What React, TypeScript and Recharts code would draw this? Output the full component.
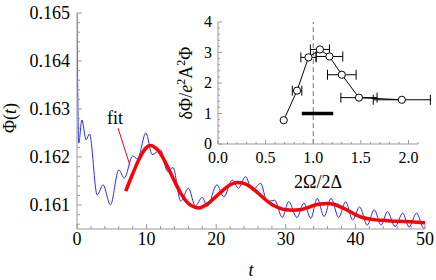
import React from 'react';
import {
  LineChart, Line, XAxis, YAxis, ReferenceLine,
  ScatterChart, Scatter, ErrorBar,
} from 'recharts';

// main panel: Φ(t) trace (blue) and fit (red)
const blueT = [0, 0.25, 0.7, 1.3, 1.8, 2.9, 3.75, 4.8, 6.0, 6.8, 8.0, 8.7, 9.9, 10.8, 12.0, 13.0, 13.8, 14.9, 16.0, 17.0, 18.0, 18.7, 20.1, 21.1, 22.3, 23.2, 24.2, 25.2, 26.4, 27.3, 28.4, 29.5, 30.4, 31.6, 32.6, 33.6, 34.5, 35.5, 36.5, 37.6, 38.6, 39.6, 40.6, 41.7, 42.7, 43.7, 44.6, 45.7, 46.8, 47.7, 48.8, 49.8, 50];
const blueV = [0.1650, 0.16229, 0.16277, 0.16236, 0.16248, 0.16121, 0.16142, 0.16100, 0.16173, 0.16156, 0.16202, 0.16196, 0.16250, 0.16205, 0.16215, 0.16170, 0.16178, 0.16108, 0.16135, 0.16098, 0.16116, 0.16097, 0.16142, 0.16117, 0.16152, 0.16135, 0.16159, 0.16131, 0.16145, 0.16107, 0.16110, 0.16074, 0.16107, 0.16074, 0.16104, 0.16072, 0.16114, 0.16076, 0.16114, 0.16074, 0.16107, 0.16069, 0.16096, 0.16058, 0.16090, 0.16058, 0.16086, 0.16055, 0.16083, 0.16054, 0.16083, 0.16052, 0.16055];

const fitT = [7, 8, 9, 10, 10.5, 11, 12, 13, 14, 15, 16, 17, 17.5, 18, 19, 20, 21, 22, 23, 24, 25, 26, 27, 28, 29, 30, 31, 32, 33, 34, 35, 36, 37, 38, 39, 40, 41, 42, 43, 44, 46, 48, 50];
const fitV = [0.16129, 0.16165, 0.16198, 0.16220, 0.16224, 0.16222, 0.16207, 0.16180, 0.16150, 0.16122, 0.16103, 0.16095, 0.16094, 0.16096, 0.16105, 0.16118, 0.16131, 0.16142, 0.16147, 0.16145, 0.16137, 0.16125, 0.16112, 0.16101, 0.16094, 0.16090, 0.16089, 0.16090, 0.16094, 0.16099, 0.16102, 0.16103, 0.16101, 0.16095, 0.16088, 0.16080, 0.16074, 0.16071, 0.16069, 0.16068, 0.16066, 0.16065, 0.16063];

const fitPointer = [{ x: 5.9, y: 0.1626 }, { x: 7.6, y: 0.16183 }];

const mainXMajor = [0, 10, 20, 30, 40, 50];
const mainXTicks = [0, 2, 4, 6, 8, 10, 12, 14, 16, 18, 20, 22, 24, 26, 28, 30, 32, 34, 36, 38, 40, 42, 44, 46, 48, 50];
const mainYMajor = [0.161, 0.162, 0.163, 0.164, 0.165];
const mainYTicks = [0.1606, 0.1608, 0.161, 0.1612, 0.1614, 0.1616, 0.1618, 0.162, 0.1622, 0.1624, 0.1626, 0.1628, 0.163, 0.1632, 0.1634, 0.1636, 0.1638, 0.164, 0.1642, 0.1644, 0.1646, 0.1648, 0.165];

// inset: δΦ/e²A²Φ vs 2Ω/2Δ
const insetX = [0.69, 0.83, 0.95, 1.07, 1.17, 1.30, 1.48, 1.93];
const insetY = [0.78, 1.75, 2.84, 3.10, 2.87, 2.27, 1.52, 1.45];
const insetXErr = [0, 0.05, 0.08, 0.10, 0.14, 0.15, 0.19, 0.30];
const gapBar = [{ x: 0.88, y: 1 }, { x: 1.21, y: 1 }];

const insetXMajor = [0, 0.5, 1, 1.5, 2];
const insetXTicks = [0, 0.1, 0.2, 0.3, 0.4, 0.5, 0.6, 0.7, 0.8, 0.9, 1, 1.1, 1.2, 1.3, 1.4, 1.5, 1.6, 1.7, 1.8, 1.9, 2, 2.1];
const insetYMajor = [0, 1, 2, 3, 4];
const insetYTicks = [0, 0.2, 0.4, 0.6, 0.8, 1, 1.2, 1.4, 1.6, 1.8, 2, 2.2, 2.4, 2.6, 2.8, 3, 3.2, 3.4, 3.6, 3.8, 4];

const blueData = blueT.map((t, i) => ({ t, v: blueV[i] }));
const fitData = fitT.map((t, i) => ({ t, v: fitV[i] }));
const insetData = insetX.map((x, i) => ({ x, y: insetY[i], xerr: insetXErr[i] }));

const FONT = '"Liberation Serif", "Times New Roman", serif';
const FRAME = '#999';

type Side = 'bottom' | 'top' | 'left' | 'right';

// inward ticks (Mathematica frame style), labels only on majors
function frameTick(side: Side, majors: number[], fmt: ((v: number) => string) | null, fontSize: number, big: number, small: number, gap: number) {
  return (p: any) => {
    const { x, y } = p;
    const v = p.payload.value;
    const isMajor = majors.some((m) => Math.abs(m - v) < 1e-9);
    const len = isMajor ? big : small;
    let x2 = x, y2 = y;
    if (side === 'bottom') y2 = y - len;
    if (side === 'top') y2 = y + len;
    if (side === 'left') x2 = x + len;
    if (side === 'right') x2 = x - len;
    let label = null;
    if (fmt && isMajor) {
      if (side === 'bottom') {
        label = <text x={x} y={y + gap} textAnchor="middle" fontSize={fontSize} fontFamily={FONT} fill="#000">{fmt(v)}</text>;
      } else if (side === 'left') {
        label = <text x={x - gap} y={y + fontSize * 0.33} textAnchor="end" fontSize={fontSize} fontFamily={FONT} fill="#000">{fmt(v)}</text>;
      }
    }
    return (
      <g>
        <line x1={x} y1={y} x2={x2} y2={y2} stroke={FRAME} strokeWidth={1} />
        {label}
      </g>
    );
  };
}

const circle = (p: any) => <circle cx={p.cx} cy={p.cy} r={3.6} fill="#fff" stroke="#000" strokeWidth={1} />;

export default function App() {
  return (
    <div style={{ position: 'absolute', left: 0, top: 0, width: 436, height: 280, background: '#fff', fontFamily: FONT }}>
      <div style={{ position: 'absolute', left: 0, top: 0 }}>
        <LineChart width={436} height={280} margin={{ top: 13, right: 11, bottom: 0, left: 0 }}>
          <XAxis xAxisId="b" type="number" dataKey="t" domain={[0, 50]} ticks={mainXTicks} interval={0}
            height={51} tickSize={0} tickMargin={0} axisLine={{ stroke: FRAME }} tickLine={false}
            tick={frameTick('bottom', mainXMajor, (v) => String(v), 18, 5, 3, 16)} allowDataOverflow />
          <XAxis xAxisId="top" orientation="top" type="number" domain={[0, 50]} ticks={mainXTicks} interval={0}
            height={0} tickSize={0} tickMargin={0} axisLine={{ stroke: FRAME }} tickLine={false}
            tick={frameTick('top', mainXMajor, null, 18, 5, 3, 0)} allowDataOverflow />
          <YAxis yAxisId="l" type="number" domain={[0.1605, 0.165]} ticks={mainYTicks} interval={0}
            width={77} tickSize={0} tickMargin={0} axisLine={{ stroke: FRAME }} tickLine={false}
            tick={frameTick('left', mainYMajor, (v) => v.toFixed(3), 18, 5, 3, 7)} allowDataOverflow />
          <YAxis yAxisId="r" orientation="right" type="number" domain={[0.1605, 0.165]} ticks={mainYTicks} interval={0}
            width={0} tickSize={0} tickMargin={0} axisLine={{ stroke: FRAME }} tickLine={false}
            tick={frameTick('right', mainYMajor, null, 18, 5, 3, 0)} allowDataOverflow />
          <Line xAxisId="b" yAxisId="l" data={blueData} dataKey="v" type="monotone" stroke="#2a2aff"
            strokeWidth={1} dot={false} isAnimationActive={false} />
          <Line xAxisId="b" yAxisId="l" data={fitData} dataKey="v" type="monotone" stroke="#ff0000"
            strokeWidth={3.5} dot={false} isAnimationActive={false} />
          <ReferenceLine xAxisId="b" yAxisId="l" segment={fitPointer} stroke="#ff0000" strokeWidth={1} />
        </LineChart>
      </div>

      <div style={{ position: 'absolute', left: 0, top: 0 }}>
        <ScatterChart width={436} height={280} margin={{ top: 22, right: 18, bottom: 0, left: 0 }}>
          <XAxis xAxisId="b" type="number" dataKey="x" domain={[0, 2.1]} ticks={insetXTicks} interval={0}
            height={136} tickSize={0} tickMargin={0} axisLine={{ stroke: FRAME }} tickLine={false}
            tick={frameTick('bottom', insetXMajor, (v) => v.toFixed(1), 16, 4, 2, 19)} allowDataOverflow />
          <XAxis xAxisId="top" orientation="top" type="number" domain={[0, 2.1]} ticks={insetXTicks} interval={0}
            height={0} tickSize={0} tickMargin={0} axisLine={{ stroke: FRAME }} tickLine={false}
            tick={frameTick('top', insetXMajor, null, 16, 4, 2, 0)} allowDataOverflow />
          <YAxis yAxisId="l" type="number" dataKey="y" domain={[0, 4]} ticks={insetYTicks} interval={0}
            width={218} tickSize={0} tickMargin={0} axisLine={{ stroke: FRAME }} tickLine={false}
            tick={frameTick('left', insetYMajor, (v) => String(v), 16, 4, 2, 6)} allowDataOverflow />
          <YAxis yAxisId="r" orientation="right" type="number" domain={[0, 4]} ticks={insetYTicks} interval={0}
            width={0} tickSize={0} tickMargin={0} axisLine={{ stroke: FRAME }} tickLine={false}
            tick={frameTick('right', insetYMajor, null, 16, 4, 2, 0)} allowDataOverflow />
          <ReferenceLine xAxisId="b" yAxisId="l" x={1} stroke="#777" strokeDasharray="5 3" strokeWidth={1} />
          <ReferenceLine xAxisId="b" yAxisId="l" segment={gapBar} stroke="#000" strokeWidth={3.5} />
          <Scatter xAxisId="b" yAxisId="l" data={insetData} line={{ stroke: '#000', strokeWidth: 1 }} lineType="joint"
            shape={circle} isAnimationActive={false}>
            <ErrorBar dataKey="xerr" direction="x" width={5} stroke="#000" strokeWidth={1} />
          </Scatter>
        </ScatterChart>
      </div>

      <svg width={436} height={280} style={{ position: 'absolute', left: 0, top: 0, pointerEvents: 'none' }}>
        <text x={115} y={124} textAnchor="middle" fontSize={18} fontFamily={FONT}>fit</text>
        <text x={251} y={276} textAnchor="middle" fontSize={18} fontFamily={FONT} fontStyle="italic">t</text>
        <text transform="translate(16,118) rotate(-90)" textAnchor="middle" fontSize={18} fontFamily={FONT}>
          Φ(<tspan fontStyle="italic">t</tspan>)
        </text>
        <text x={318} y={188} textAnchor="middle" fontSize={18} fontFamily={FONT}>2Ω/2Δ</text>
        <text transform="translate(192,83) rotate(-90)" textAnchor="middle" fontSize={18} fontFamily={FONT}>
          δΦ/<tspan fontStyle="italic">e</tspan><tspan dy={-7} fontSize={12}>2</tspan><tspan dy={7}>A</tspan><tspan dy={-7} fontSize={12}>2</tspan><tspan dy={7}>Φ</tspan>
        </text>
      </svg>
    </div>
  );
}
